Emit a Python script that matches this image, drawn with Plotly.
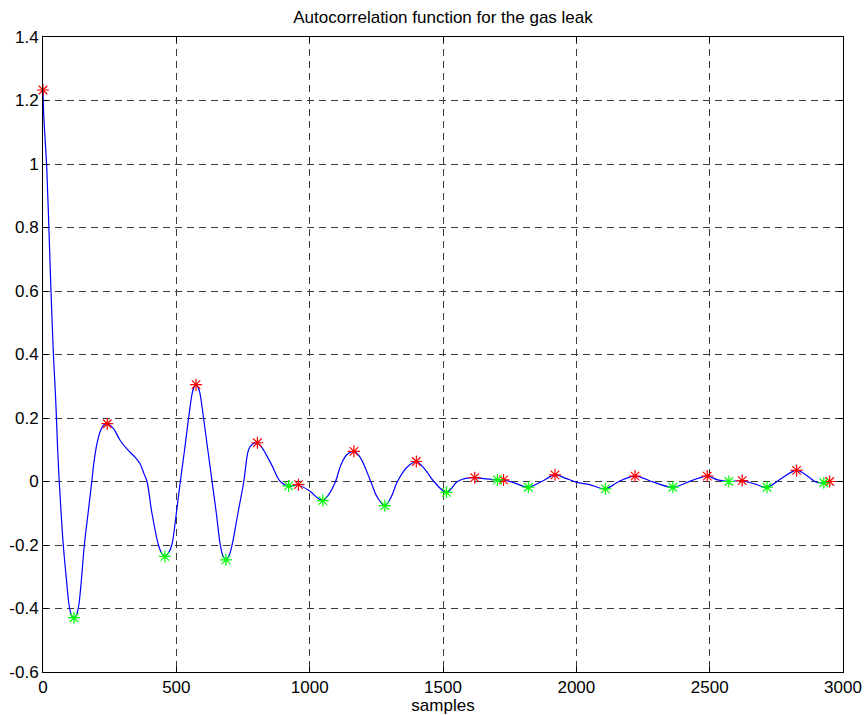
import plotly.graph_objects as go

# Autocorrelation curve (samples, value)
lag = [0, 3, 7, 14, 22, 30, 39, 48, 55, 61, 68, 76, 88, 97, 104, 110, 116, 122, 128, 135,
       145, 155, 169, 183, 191, 201, 214, 227, 241, 265, 289, 320, 345, 364, 379, 390, 408,
       433, 445, 457, 470, 483, 500, 515, 531, 546, 560, 567, 574, 581, 588, 602, 618, 634,
       650, 665, 675, 686, 697, 709, 731, 753, 771, 785, 804, 820, 840, 859, 890, 921, 955,
       1000, 1030, 1049, 1068, 1097, 1116, 1140, 1166, 1190, 1229, 1254, 1282, 1305, 1329,
       1365, 1400, 1435, 1466, 1513, 1554, 1585, 1619, 1660, 1704, 1727, 1770, 1820, 1870,
       1920, 1960, 2000, 2050, 2109, 2160, 2220, 2290, 2362, 2430, 2491, 2530, 2572, 2622,
       2670, 2715, 2770, 2826, 2870, 2900, 2928, 2950]
acf = [1.233, 1.15, 1.09, 0.99, 0.80, 0.60, 0.40, 0.25, 0.10, 0.0, -0.10, -0.20, -0.31,
       -0.385, -0.415, -0.427, -0.429, -0.427, -0.415, -0.385, -0.30, -0.20, -0.10, 0.0, 0.06,
       0.114, 0.156, 0.177, 0.182, 0.166, 0.13, 0.098, 0.077, 0.056, 0.024, 0.0, -0.097,
       -0.20, -0.226, -0.236, -0.226, -0.20, -0.10, 0.0, 0.10, 0.20, 0.28, 0.298, 0.305,
       0.298, 0.28, 0.20, 0.10, 0.0, -0.10, -0.20, -0.235, -0.247, -0.235, -0.20, -0.10, 0.0,
       0.10, 0.117, 0.122, 0.108, 0.08, 0.05, 0.0, -0.015, -0.011, -0.03, -0.052, -0.060,
       -0.045, 0.0, 0.05, 0.085, 0.095, 0.075, 0.0, -0.05, -0.076, -0.05, 0.0, 0.045, 0.063,
       0.035, 0.0, -0.034, 0.0, 0.01, 0.012, 0.008, 0.005, 0.005, -0.005, -0.018, 0.0, 0.021,
       0.01, -0.002, -0.01, -0.023, 0.0, 0.017, -0.002, -0.018, 0.002, 0.017, 0.005, 0.0,
       0.003, -0.008, -0.018, 0.01, 0.035, 0.015, -0.002, -0.004, 0.0]

# Local maxima (red) and minima (green)
max_x = [0, 241, 574, 804, 958, 1166, 1400, 1619, 1727, 1920, 2220, 2491, 2622, 2826, 2950]
max_y = [1.233, 0.182, 0.305, 0.122, -0.010, 0.095, 0.063, 0.012, 0.005, 0.021, 0.017,
         0.017, 0.003, 0.035, 0.0]
min_x = [116, 457, 686, 921, 1049, 1282, 1513, 1704, 1820, 2109, 2362, 2572, 2715, 2928]
min_y = [-0.429, -0.236, -0.247, -0.014, -0.060, -0.076, -0.034, 0.005, -0.018, -0.023,
         -0.018, 0.0, -0.018, -0.004]

title_text = "Autocorrelation function for the gas leak"
x_label = "samples"
x_ticks = [0, 500, 1000, 1500, 2000, 2500, 3000]
y_ticks = [-0.6, -0.4, -0.2, 0, 0.2, 0.4, 0.6, 0.8, 1, 1.2, 1.4]
y_tick_text = ["-0.6", "-0.4", "-0.2", "0", "0.2", "0.4", "0.6", "0.8", "1", "1.2", "1.4"]

FONT = "Liberation Sans, Arial, Helvetica, sans-serif"

fig = go.Figure()
fig.add_trace(go.Scatter(x=lag, y=acf, mode="lines",
                         line=dict(color="#0000ff", width=1.2, shape="spline", smoothing=1.0),
                         showlegend=False, hoverinfo="skip"))
fig.add_trace(go.Scatter(x=max_x, y=max_y, mode="markers", cliponaxis=False,
                         marker=dict(symbol="asterisk-open", size=10, color="#ff0000",
                                     line=dict(color="#ff0000", width=1.2)),
                         showlegend=False))
fig.add_trace(go.Scatter(x=min_x, y=min_y, mode="markers", cliponaxis=False,
                         marker=dict(symbol="asterisk-open", size=10, color="#00ff00",
                                     line=dict(color="#00ff00", width=1.2)),
                         showlegend=False))

axis_common = dict(showline=True, linecolor="black", linewidth=1, mirror="ticks", ticks="inside",
                   ticklen=5, tickcolor="black", showgrid=True, gridcolor="#3c3c3c", gridwidth=1,
                   griddash="7px,5px", zeroline=False, automargin=False,
                   tickfont=dict(family=FONT, size=17, color="black"))

fig.update_xaxes(range=[0, 3000], tickvals=x_ticks, ticktext=[str(v) for v in x_ticks],
                 title=dict(text=x_label, font=dict(family=FONT, size=17, color="black"), standoff=3),
                 **axis_common)
fig.update_yaxes(range=[-0.6, 1.4], tickvals=y_ticks, ticktext=y_tick_text, **axis_common)

fig.update_layout(
    width=864, height=715,
    margin=dict(l=43, r=21, t=37, b=43),
    paper_bgcolor="white", plot_bgcolor="white",
    title=dict(text=title_text, x=0.5, xref="paper", xanchor="center", y=1 - 17 / 715,
               yanchor="middle", font=dict(family=FONT, size=17, color="black")),
)

fig.write_html("out.html")
